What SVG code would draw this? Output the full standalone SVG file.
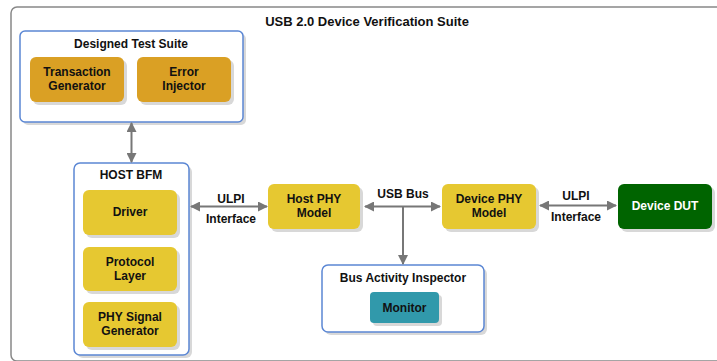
<svg xmlns="http://www.w3.org/2000/svg" width="717" height="361" viewBox="0 0 717 361">
<style>
text{font-family:"Liberation Sans",Arial,sans-serif;font-weight:bold;font-size:12px;fill:#111;text-anchor:middle}
.wt{fill:#fff}
.ttl{font-size:13px}
.cont{fill:#fff;stroke:#5b87d4;stroke-width:1.5}
.sh{fill:#d8d8d8}
.gold{fill:#daa024}
.yel{fill:#e6c831}
.grn{fill:#006400}
.teal{fill:#3199ab}
.conn{stroke:#777;stroke-width:2;fill:none}
</style>
<defs>
<marker id="ah" markerWidth="10" markerHeight="10" refX="9" refY="5" orient="auto-start-reverse" markerUnits="userSpaceOnUse">
<path d="M0,0 L10,5 L0,10 Z" fill="#777"/>
</marker>
</defs>
<rect width="717" height="361" fill="#fff"/>
<g id="outer">
<rect x="11" y="7" width="712" height="354" rx="6" fill="#fff" stroke="#888" stroke-width="1.5"/>
<text class="ttl" x="367" y="26">USB 2.0 Device Verification Suite</text>
</g>
<g id="test-suite">
<rect class="sh" x="23" y="34" width="223" height="91" rx="5"/>
<rect class="cont" x="20" y="31" width="223" height="91" rx="5"/>
<text x="131" y="48">Designed Test Suite</text>
</g>
<g id="transaction-generator">
<rect class="sh" x="33" y="60" width="94" height="45" rx="6"/>
<rect class="gold" x="30" y="57" width="94" height="45" rx="6"/>
<text x="77" y="76">Transaction</text>
<text x="77" y="90">Generator</text>
</g>
<g id="error-injector">
<rect class="sh" x="140" y="60" width="94" height="45" rx="6"/>
<rect class="gold" x="137" y="57" width="94" height="45" rx="6"/>
<text x="184" y="76">Error</text>
<text x="184" y="90">Injector</text>
</g>
<g id="host-bfm">
<rect class="sh" x="77" y="166" width="115" height="192" rx="6"/>
<rect class="cont" x="74" y="163" width="115" height="192" rx="6"/>
<text x="131" y="179">HOST BFM</text>
</g>
<g id="driver">
<rect class="sh" x="86" y="193" width="94" height="45" rx="6"/>
<rect class="yel" x="83" y="190" width="94" height="45" rx="6"/>
<text x="130" y="216">Driver</text>
</g>
<g id="protocol-layer">
<rect class="sh" x="86" y="250" width="94" height="44" rx="6"/>
<rect class="yel" x="83" y="247" width="94" height="44" rx="6"/>
<text x="130" y="266">Protocol</text>
<text x="130" y="280">Layer</text>
</g>
<g id="phy-signal-generator">
<rect class="sh" x="86" y="305" width="94" height="45" rx="6"/>
<rect class="yel" x="83" y="302" width="94" height="45" rx="6"/>
<text x="130" y="321">PHY Signal</text>
<text x="130" y="335">Generator</text>
</g>
<g id="host-phy">
<rect class="sh" x="271" y="187" width="92" height="45" rx="6"/>
<rect class="yel" x="268" y="184" width="92" height="45" rx="6"/>
<text x="314" y="203">Host PHY</text>
<text x="314" y="217">Model</text>
</g>
<g id="device-phy">
<rect class="sh" x="445" y="187" width="94" height="45" rx="6"/>
<rect class="yel" x="442" y="184" width="94" height="45" rx="6"/>
<text x="489" y="203">Device PHY</text>
<text x="489" y="217">Model</text>
</g>
<g id="device-dut">
<rect class="sh" x="621" y="187" width="94" height="45" rx="6"/>
<rect class="grn" x="618" y="184" width="94" height="45" rx="6"/>
<text class="wt" x="665" y="210">Device DUT</text>
</g>
<g id="bus-inspector">
<rect class="sh" x="325" y="268" width="162" height="67" rx="6"/>
<rect class="cont" x="322" y="265" width="162" height="67" rx="6"/>
<text x="403" y="282">Bus Activity Inspector</text>
</g>
<g id="monitor">
<rect class="sh" x="373" y="295" width="69" height="31" rx="4"/>
<rect class="teal" x="370" y="292" width="69" height="31" rx="4"/>
<text x="404.5" y="312">Monitor</text>
</g>
<g id="connectors">
<line class="conn" x1="131.5" y1="123" x2="131.5" y2="162" marker-start="url(#ah)" marker-end="url(#ah)"/>
<line class="conn" x1="191" y1="206.5" x2="267" y2="206.5" marker-start="url(#ah)" marker-end="url(#ah)"/>
<line class="conn" x1="365" y1="206.5" x2="440" y2="206.5" marker-start="url(#ah)" marker-end="url(#ah)"/>
<line class="conn" x1="403" y1="206.5" x2="403" y2="264" marker-end="url(#ah)"/>
<line class="conn" x1="540" y1="205.5" x2="616" y2="205.5" marker-start="url(#ah)" marker-end="url(#ah)"/>
<text x="231" y="203">ULPI</text>
<text x="231" y="223">Interface</text>
<text x="403" y="198">USB Bus</text>
<text x="576" y="200">ULPI</text>
<text x="576" y="221">Interface</text>
</g>
</svg>
